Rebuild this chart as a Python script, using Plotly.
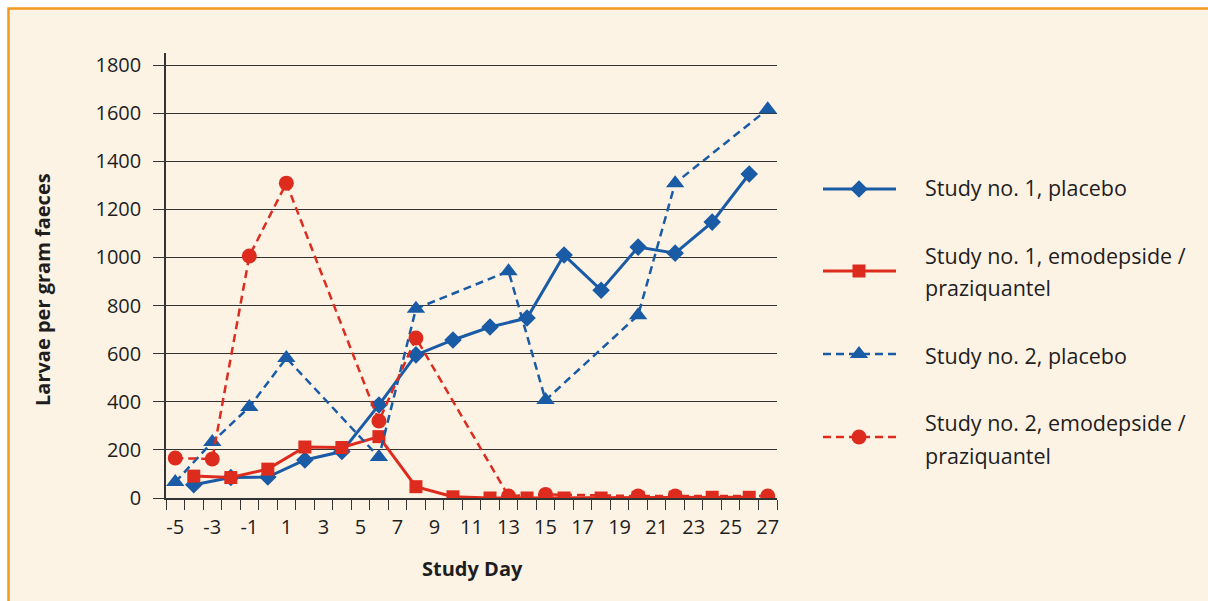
import plotly.graph_objects as go

W, H = 1208, 601

# ---------------- data ----------------
days_s1 = [-4, -2, 0, 2, 4, 6, 8, 10, 12, 14, 16, 18, 20, 22, 24, 26]
s1_placebo = [55, 85, 87, 158, 193, 387, 595, 657, 711, 748, 1010, 864, 1043, 1018, 1147, 1347]
s1_emo = [91, 85, 120, 212, 210, 255, 47, 5, 0, 0, 0, 0, 3, 3, 3, 3]

days_s2 = [-5, -3, -1, 1, 6, 8, 13, 15, 20, 22, 27]
s2_placebo = [66, 233, 378, 582, 170, 787, 943, 407, 760, 1309, 1616]
s2_emo = [166, 162, 1006, 1309, 320, 665, 8, 15, 8, 8, 8]

series_names = [
    "Study no. 1, placebo",
    "Study no. 1, emodepside / praziquantel",
    "Study no. 2, placebo",
    "Study no. 2, emodepside / praziquantel",
]
x_tick_vals = list(range(-5, 28, 2))
x_tick_labels = [str(d) for d in x_tick_vals]
y_tick_vals = list(range(0, 1801, 200))

# ---------------- style ----------------
BLUE = "#1A5BA6"
RED = "#DD2C1E"
CREAM = "#FDF3E5"
ORANGE = "#F39A1E"
INK = "#1E1E1E"
GRID = "#333333"
FONT = "Open Sans"
DASH = "8px,5px"

styles = [
    dict(color=BLUE, dash="solid", symbol="diamond", size=13.5, width=3),
    dict(color=RED, dash="solid", symbol="square", size=13, width=3),
    dict(color=BLUE, dash=DASH, symbol="triangle-up", size=16, width=2.5),
    dict(color=RED, dash=DASH, symbol="circle", size=15, width=2.5),
]
xs = [days_s1, days_s1, days_s2, days_s2]
ys = [s1_placebo, s1_emo, s2_placebo, s2_emo]

fig = go.Figure()
for name, x, y, st in zip(series_names, xs, ys, styles):
    fig.add_trace(go.Scatter(
        x=x, y=y, name=name, mode="lines+markers",
        line=dict(color=st["color"], width=st["width"], dash=st["dash"]),
        marker=dict(symbol=st["symbol"], size=st["size"], color=st["color"], line=dict(width=0)),
        showlegend=False, xaxis="x", yaxis="y",
    ))

# ---------------- custom legend (samples on a helper axis, pixel units) ----------------
LX0, LX1 = 800, 1208
LY0, LY1 = 150, 480
legend_rows = [189, 271, 354, 437]
sample_line_x = [823, 896]
sample_marker_x = [859]
for name, st, ry in zip(series_names, styles, legend_rows):
    fig.add_trace(go.Scatter(
        x=sample_line_x, y=[ry, ry], mode="lines",
        line=dict(color=st["color"], width=st["width"], dash=st["dash"]),
        showlegend=False, hoverinfo="skip", xaxis="x2", yaxis="y2",
    ))
    fig.add_trace(go.Scatter(
        x=sample_marker_x, y=[ry], mode="markers",
        marker=dict(symbol=st["symbol"], size=st["size"], color=st["color"], line=dict(width=0)),
        showlegend=False, hoverinfo="skip", xaxis="x2", yaxis="y2",
    ))

annotations = []
legend_text_lines = [
    [("Study no. 1, placebo", 188)],
    [("Study no. 1, emodepside /", 255), ("praziquantel", 287)],
    [("Study no. 2, placebo", 355)],
    [("Study no. 2, emodepside /", 422), ("praziquantel", 455)],
]
for lines in legend_text_lines:
    for txt, py in lines:
        annotations.append(dict(
            text=txt, x=923 / W, y=1 - py / H, xref="paper", yref="paper",
            xanchor="left", yanchor="middle", showarrow=False,
            font=dict(family=FONT, size=21.5, color=INK),
        ))

annotations.append(dict(
    text="<b>Larvae per gram faeces</b>", x=42 / W, y=1 - 290 / H,
    xref="paper", yref="paper", textangle=-90, showarrow=False,
    xanchor="center", yanchor="middle", font=dict(family=FONT, size=20, color=INK),
))
annotations.append(dict(
    text="<b>Study Day</b>", x=472 / W, y=1 - 568 / H,
    xref="paper", yref="paper", showarrow=False,
    xanchor="center", yanchor="middle", font=dict(family=FONT, size=20, color=INK),
))

# plot area in pixels
PX0, PX1 = 166, 777
PY_TOP, PY_BOT = 53, 498

fig.update_layout(
    width=W, height=H,
    margin=dict(l=0, r=0, t=0, b=0, autoexpand=False),
    paper_bgcolor="white",
    plot_bgcolor="rgba(0,0,0,0)",
    font=dict(family=FONT, color=INK),
    xaxis=dict(
        domain=[PX0 / W, PX1 / W], anchor="y", automargin=False,
        range=[-5.5, 27.5],
        tickmode="array", tickvals=x_tick_vals, ticktext=x_tick_labels,
        ticks="", showgrid=False, zeroline=False,
        showline=True, linecolor=GRID, linewidth=1.5,
        tickfont=dict(family=FONT, size=20, color=INK),
        ticklabelstandoff=10,
        minor=dict(tickmode="array", tickvals=[d + 0.5 for d in range(-6, 28)],
                   ticks="outside", ticklen=10, tickcolor=GRID, tickwidth=1, showgrid=False),
        fixedrange=True,
    ),
    yaxis=dict(
        domain=[1 - PY_BOT / H, 1 - PY_TOP / H], anchor="x", automargin=False,
        range=[0, 1850],
        tickmode="array", tickvals=y_tick_vals,
        ticks="outside", ticklen=11, tickcolor=GRID, tickwidth=1,
        showgrid=True, gridcolor=GRID, gridwidth=1, zeroline=False,
        showline=True, linecolor=GRID, linewidth=1.5,
        tickfont=dict(family=FONT, size=20, color=INK),
        ticklabelstandoff=8,
        fixedrange=True,
    ),
    xaxis2=dict(domain=[LX0 / W, LX1 / W], range=[LX0, LX1], anchor="y2",
                visible=False, fixedrange=True, automargin=False),
    yaxis2=dict(domain=[1 - LY1 / H, 1 - LY0 / H], range=[LY1, LY0], anchor="x2",
                visible=False, fixedrange=True, automargin=False),
    shapes=[dict(
        type="rect", xref="paper", yref="paper", layer="below",
        x0=8.5 / W, x1=1.02, y0=-0.02, y1=1 - 8.5 / H,
        fillcolor=CREAM, line=dict(color=ORANGE, width=2.5),
    )],
    annotations=annotations,
    showlegend=False,
)

fig.write_html(
    "out.html",
    config={"displayModeBar": False},
    post_script="document.body.style.margin='0';document.body.style.overflow='hidden';",
)
